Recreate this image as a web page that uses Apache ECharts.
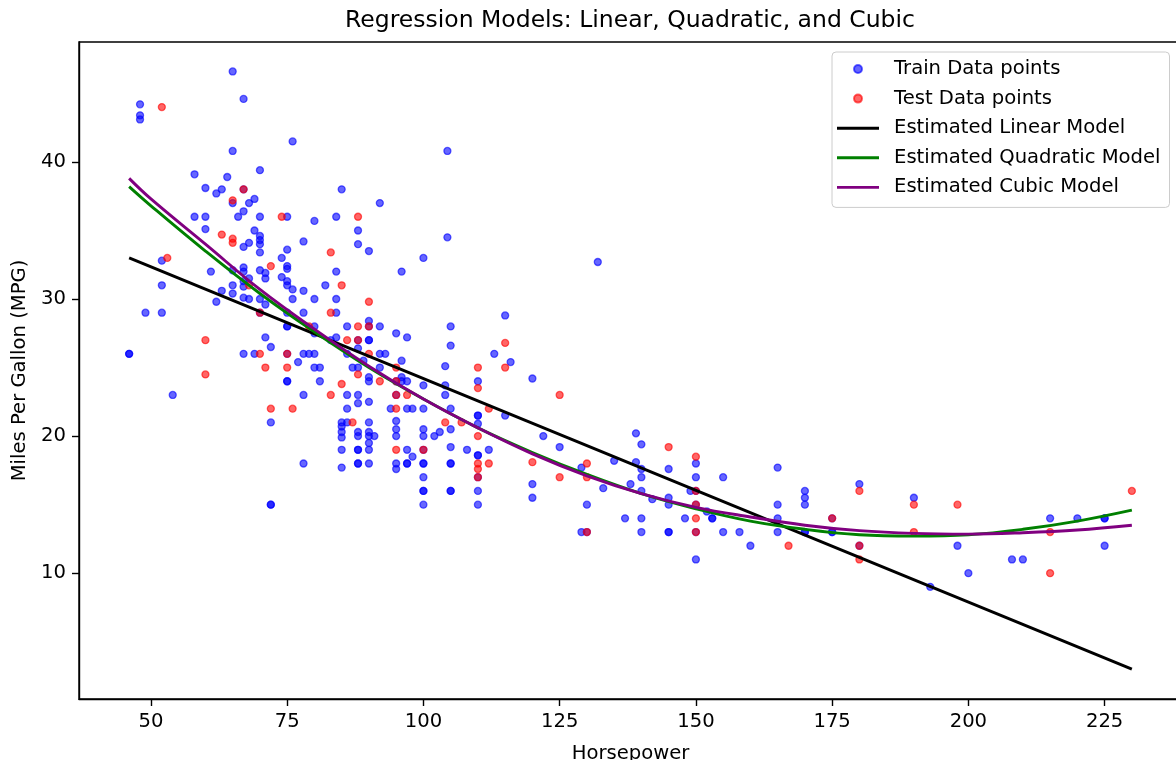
<!DOCTYPE html>
<html>
<head>
<meta charset="utf-8">
<script src="https://cdn.jsdelivr.net/npm/echarts@6/dist/echarts.min.js"></script>
<style>
html,body{margin:0;padding:0;background:#fff;}
#chart{width:1176px;height:760px;}
</style>
</head>
<body>
<div id="chart"></div>
<script>
// ---- data ----
const trainPoints = [
[46,26],[46,26],[48,44.2],[48,43.4],[48,43.1],[49,29],[52,29],[52,32.8],[52,31],[54,23],
[58,39.1],[58,36],[60,38.1],[60,36],[60,35.1],[61,32],[62,37.7],[62,29.8],[63,38.0],[63,30.6],
[64,38.9],[65,46.6],[65,40.8],[65,37.0],[65,32.1],[65,31],[65,30.4],[66,36],
[67,44.6],[67,38],[67,36.4],[67,33.8],[67,32.3],[67,32],[67,31.3],[67,30.9],[67,30.1],[67,26],
[68,37],[68,34.1],[68,31.5],[68,30],[69,37.3],[69,35],[69,26],
[70,39.4],[70,36],[70,34.6],[70,34.3],[70,34],[70,33.4],[70,32.1],[70,30],[70,29],
[71,31.9],[71,31.5],[71,29.6],[71,27.2],[72,26.5],[72,21],[72,15],[72,15],[74,33],[74,31.6],
[75,36],[75,33.6],[75,32.4],[75,32.2],[75,31.3],[75,31],[75,29],[75,28],[75,28],[75,26],[75,24],[75,24],
[76,41.5],[76,30.7],[76,30],[77,25.4],[78,34.2],[78,30.6],[78,29],[78,26],[78,23],[78,18],[79,26],
[80,35.7],[80,30],[80,28],[80,27.5],[80,26],[80,25],[81,25],[81,24],[82,31],[83,27],
[84,36],[84,32],[84,30],[84,29],[84,27.2],
[85,38],[85,21],[85,20.7],[85,20.3],[85,19.9],[85,19],[85,17.7],
[86,28],[86,26],[86,23],[86,22],[86,21],[87,25],
[88,35],[88,34],[88,27],[88,26.4],[88,25],[88,23],[88,22.4],[88,20.3],[88,20],[88,19],[88,19],[88,18],[88,18],
[89,25.5],
[90,33.5],[90,28.4],[90,28],[90,27],[90,27],[90,24.3],[90,24],[90,22.5],[90,21],[90,20.3],[90,20],[90,19.5],[90,19],[90,18],
[91,20],[92,37],[92,28],[92,26],[92,25],[93,26],[94,22],
[95,27.5],[95,24],[95,23],[95,21.1],[95,20.5],[95,20],[95,18],[95,17.6],
[96,32],[96,25.5],[96,24.3],[96,24],[97,27.2],[97,24],[97,22],[97,19],[97,18],[97,18],[98,22],[98,18.5],
[100,33],[100,23.7],[100,22],[100,20.5],[100,20],[100,19],[100,18],[100,18],[100,17],[100,16],[100,16],[100,15],
[102,20],[103,20.3],[104.4,40.8],[104.4,34.5],[104,25.1],[104,23.7],[104,23],
[105,28],[105,26.6],[105,22],[105,20.5],[105,19.2],[105,18],[105,18],[105,16],[105,16],
[108,19],[110,24],[110,21.5],[110,21.5],[110,20.9],[110,18.6],[110,18.6],[110,17],[110,16],[110,15],
[112,19],[113,26],[115,28.8],[115,21.5],[116,25.4],[120,24.2],[120,16.5],[120,15.5],[122,20],[125,19.2],
[129,17.7],[129,13],[130,15],[130,13],[132,32.7],[133,16.2],[135,18.2],[137,14],[138,16.5],[139,20.2],[139,18.1],
[140,19.4],[140,17.6],[140,17],[140,16],[140,14],[140,13],[142,15.4],
[145,17.6],[145,15.5],[145,15],[145,13],[145,13],[148,14],[149,16],
[150,18],[150,17],[150,16],[150,15],[150,13],[150,11],[152,14.5],[153,14],[153,14],[155,17],[155,13],[158,13],[160,12],
[165,17.7],[165,15],[165,14],[165,13],[170,16],[170,15.5],[170,15],[170,13],[170,13],
[175,14],[175,13],[175,13],[180,16.5],[180,12],[190,15.5],[193,9],[198,12],[200,10],[208,11],[210,11],
[215,14],[220,14],[225,14],[225,14],[225,12]
];
const testPoints = [
[52,44],[53,33],[60,27],[60,24.5],[63,34.7],[65,37.2],[65,34.4],[65,34.1],[67,38],[68,31],
[70,29],[70,26],[71,25],[72,32.4],[72,22],[74,36],[75,26],[75,25],[76,22],[79,28],
[83,33.4],[83,29],[83,23],[85,31],[85,23.8],[86,27],[87,21],[88,36],[88,28],[88,27],[88,24.5],
[90,29.8],[90,28],[90,26],[92,24],[95,25],[95,24],[95,23],[95,22],[95,19],[97,23],[100,19],
[104,21],[107,21],[110,25],[110,23.5],[110,20],[110,18],[110,17.6],[110,17],[112,22],[112,18],
[115,26.8],[115,25],[120,18.1],[125,23],[125,17],[130,18],[130,17],[130,13],[145,19.2],
[150,18.5],[150,16],[150,15],[150,14],[150,13],[167,12],[175,14],[180,16],[180,12],[180,11],
[190,15],[190,13],[198,15],[215,13],[215,10],[230,16]
];
const linearHp  = [46, 230];
const linearMpg = [33.0, 3.0];
const quadHp  = [46, 50, 60, 70, 80, 90, 100, 110, 120, 130, 140, 150, 160, 170, 180, 190, 200, 210, 220, 230];
const quadMpg = [38.2, 36.8, 33.5, 30.4, 27.6, 25.0, 22.7, 20.6, 18.8, 17.2, 15.8, 14.7, 13.8, 13.2, 12.8, 12.7, 12.8, 13.2, 13.8, 14.6];
const cubicHp  = [46, 50, 60, 70, 80, 90, 100, 110, 120, 130, 140, 150, 160, 170, 180, 190, 200, 210, 220, 230];
const cubicMpg = [38.8, 37.3, 34.0, 30.7, 27.8, 25.1, 22.7, 20.6, 18.7, 17.1, 15.8, 14.8, 14.1, 13.5, 13.1, 12.9, 12.85, 12.95, 13.15, 13.5];
const xTicks = [50, 75, 100, 125, 150, 175, 200, 225];
const yTicks = [10, 20, 30, 40];

const zip = (a, b) => a.map((v, i) => [v, b[i]]);
const FONT = 'DejaVu Sans';
const LINE_ICON = 'path://M0,0 M0,8 M0,2.55 L42,2.55 L42,5.45 L0,5.45 Z';

const chart = echarts.init(document.getElementById('chart'), null, {renderer: 'canvas'});
chart.setOption({
  animation: false,
  backgroundColor: '#fff',
  title: {
    text: 'Regression Models: Linear, Quadratic, and Cubic',
    left: 630, top: 9, textAlign: 'center', padding: 0,
    textStyle: {fontFamily: FONT, fontSize: 23.5, fontWeight: 'normal', color: '#000'}
  },
  legend: {
    left: 832, top: 52, orient: 'vertical',
    itemWidth: 42, itemHeight: 8, itemGap: 9.6,
    padding: [7, 9, 10, 5],
    backgroundColor: 'rgba(255,255,255,0.8)',
    borderColor: '#cccccc', borderWidth: 1, borderRadius: 4,
    textStyle: {fontFamily: FONT, fontSize: 19.6, color: '#000', lineHeight: 20, padding: [0, 0, 0, 10]},
    data: [
      {name: 'Train Data points', icon: 'circle'},
      {name: 'Test Data points', icon: 'circle'},
      {name: 'Estimated Linear Model', icon: LINE_ICON, itemStyle: {color: '#000000'}},
      {name: 'Estimated Quadratic Model', icon: LINE_ICON, itemStyle: {color: '#008000'}},
      {name: 'Estimated Cubic Model', icon: LINE_ICON, itemStyle: {color: '#800080'}}
    ]
  },
  grid: {left: 79, right: -6, top: 42, bottom: 61, outerBoundsMode: 'none', containLabel: false,
         show: true, borderColor: '#000', borderWidth: 1.4, backgroundColor: 'transparent'},
  xAxis: {
    type: 'value', min: 36.8, max: 239.2,
    name: 'Horsepower', nameLocation: 'middle', nameGap: 45,
    nameTextStyle: {fontFamily: FONT, fontSize: 19.6, color: '#000'},
    axisLine: {show: true, onZero: false, lineStyle: {color: '#000', width: 1.4}},
    axisTick: {show: true, length: 7, lineStyle: {color: '#000', width: 1.4}, customValues: xTicks},
    axisLabel: {customValues: xTicks, margin: 13, fontFamily: FONT, fontSize: 19.6, color: '#000'},
    splitLine: {show: false}
  },
  yAxis: {
    type: 'value', min: 0.82, max: 48.75,
    name: 'Miles Per Gallon (MPG)', nameLocation: 'middle', nameGap: 46, nameRotate: 90,
    nameTextStyle: {fontFamily: FONT, fontSize: 19.6, color: '#000'},
    axisLine: {show: true, onZero: false, lineStyle: {color: '#000', width: 1.4}},
    axisTick: {show: true, length: 7, lineStyle: {color: '#000', width: 1.4}, customValues: yTicks},
    axisLabel: {customValues: yTicks, margin: 13, fontFamily: FONT, fontSize: 19.6, color: '#000'},
    splitLine: {show: false}
  },
  series: [
    {name: 'Train Data points', type: 'scatter', data: trainPoints, symbolSize: 7, z: 2,
     itemStyle: {color: 'rgba(0,0,255,0.6)', borderColor: 'rgba(0,0,255,0.6)', borderWidth: 1.3, opacity: 1}},
    {name: 'Test Data points', type: 'scatter', data: testPoints, symbolSize: 7, z: 2,
     itemStyle: {color: 'rgba(255,0,0,0.6)', borderColor: 'rgba(255,0,0,0.6)', borderWidth: 1.3, opacity: 1}},
    {name: 'Estimated Linear Model', type: 'line', data: zip(linearHp, linearMpg), symbol: 'none', z: 3,
     lineStyle: {color: '#000', width: 2.9}, itemStyle: {color: '#000'}},
    {name: 'Estimated Quadratic Model', type: 'line', data: zip(quadHp, quadMpg), symbol: 'none', smooth: 0.4, z: 3,
     lineStyle: {color: '#008000', width: 2.9}, itemStyle: {color: '#008000'}},
    {name: 'Estimated Cubic Model', type: 'line', data: zip(cubicHp, cubicMpg), symbol: 'none', smooth: 0.4, z: 3,
     lineStyle: {color: '#800080', width: 2.9}, itemStyle: {color: '#800080'}}
  ]
});
</script>
</body>
</html>
